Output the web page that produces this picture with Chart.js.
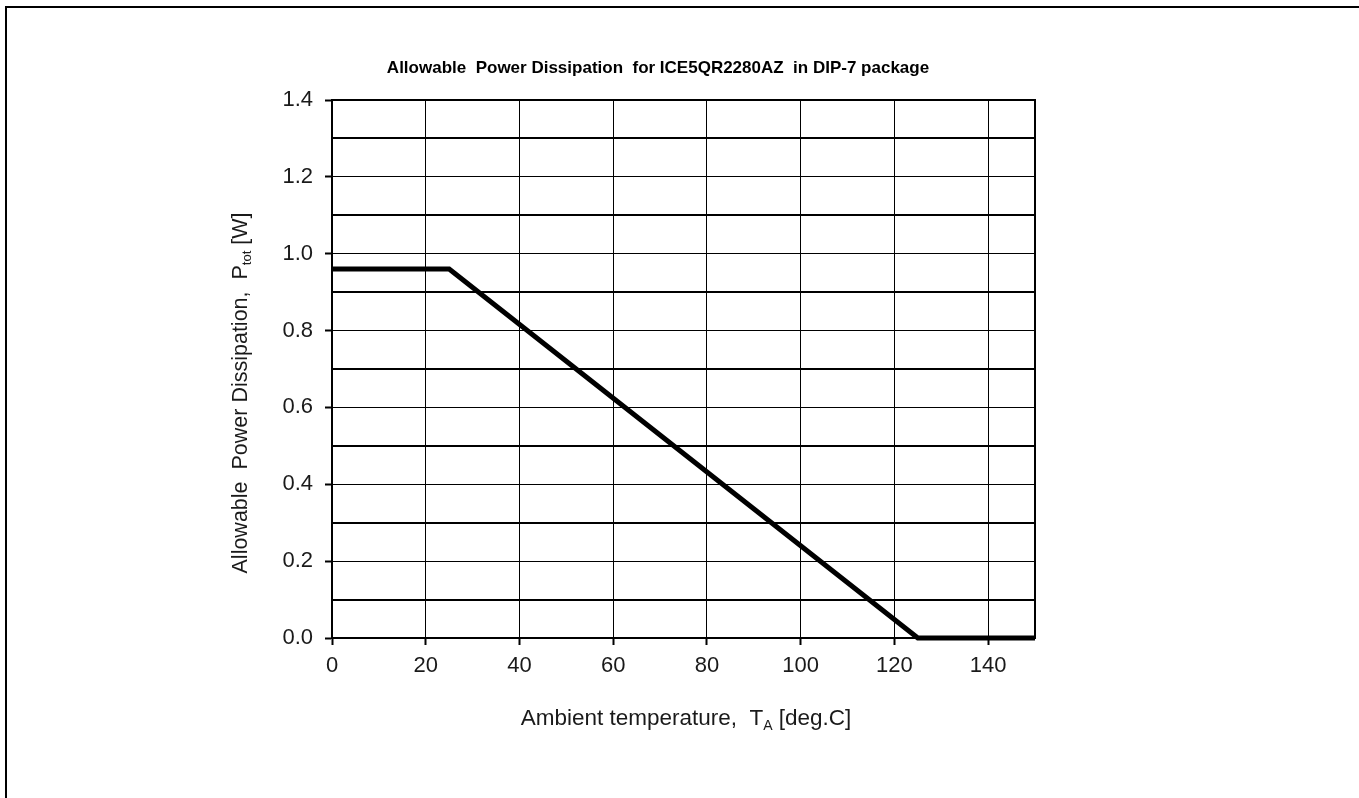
<!DOCTYPE html>
<html>
<head>
<meta charset="utf-8">
<title>Allowable Power Dissipation</title>
<script src="https://cdn.jsdelivr.net/npm/chart.js@4.4.1/dist/chart.umd.min.js"></script>
<style>
    html, body {
        margin: 0;
        padding: 0;
        background: #ffffff;
        overflow: hidden;
    }
    #wrap {
        position: absolute;
        left: 0;
        top: 0;
        width: 1359px;
        height: 798px;
    }
</style>
</head>
<body>
<div id="wrap"><canvas id="deratingChart"></canvas></div>
<script>
const temperature = [0, 25, 125, 150];
const powerW = [0.96, 0.96, 0, 0];

const xTickLabels = ["0", "20", "40", "60", "80", "100", "120", "140"];
const yTickLabels = ["0.0", "0.2", "0.4", "0.6", "0.8", "1.0", "1.2", "1.4"];

const chartTitle = "Allowable  Power Dissipation  for ICE5QR2280AZ  in DIP-7 package";
const yTitle = ["Allowable  Power Dissipation,  P", "tot", " [W]"];
const xTitle = ["Ambient temperature,  T", "A", " [deg.C]"];

const fontFamily = "'Liberation Sans', Arial, sans-serif";

function isMajorY(value) {
    return Math.abs(Math.round(value * 10) % 2) === 0;
}

// draws the text with a subscript part, centered on (0, 0)
function drawSubText(ctx, parts, size) {
    const mainFont = `${size}px ${fontFamily}`;
    const subFont = `${Math.round(size * 0.62)}px ${fontFamily}`;
    ctx.font = mainFont;
    const w0 = ctx.measureText(parts[0]).width;
    const w2 = ctx.measureText(parts[2]).width;
    ctx.font = subFont;
    const w1 = ctx.measureText(parts[1]).width;
    let x = -(w0 + w1 + w2) / 2;
    ctx.textAlign = "left";
    ctx.textBaseline = "alphabetic";
    const base = size * 0.36;
    ctx.font = mainFont;
    ctx.fillText(parts[0], x, base);
    x += w0;
    ctx.font = subFont;
    ctx.fillText(parts[1], x, base + size * 0.22);
    x += w1;
    ctx.font = mainFont;
    ctx.fillText(parts[2], x, base);
}

const textPlugin = {
    id: "textPlugin",
    beforeDraw(chart) {
        // page frame, only left and top edges are inside the picture
        const ctx = chart.ctx;
        ctx.save();
        ctx.strokeStyle = "#000";
        ctx.lineWidth = 2;
        ctx.beginPath();
        ctx.moveTo(6, 800);
        ctx.lineTo(6, 7);
        ctx.lineTo(1360, 7);
        ctx.stroke();
        ctx.restore();
    },
    afterDraw(chart) {
        const ctx = chart.ctx;
        const area = chart.chartArea;

        ctx.save();
        ctx.strokeStyle = "#000";
        ctx.lineWidth = 2;
        ctx.strokeRect(area.left, area.top, area.right - area.left, area.bottom - area.top);
        ctx.restore();

        ctx.save();
        ctx.fillStyle = "#000";
        ctx.font = `bold 17px ${fontFamily}`;
        ctx.textAlign = "center";
        ctx.textBaseline = "middle";
        ctx.fillText(chartTitle, 658, 68);
        ctx.restore();

        ctx.save();
        ctx.fillStyle = "#1a1a1a";
        ctx.translate(686, 717);
        drawSubText(ctx, xTitle, 22.5);
        ctx.restore();

        ctx.save();
        ctx.fillStyle = "#1a1a1a";
        ctx.translate(239, 393);
        ctx.rotate(-Math.PI / 2);
        drawSubText(ctx, yTitle, 21.5);
        ctx.restore();
    },
};

const deratingChart = new Chart(document.getElementById("deratingChart"), {
    type: "scatter",
    data: {
        datasets: [
            {
                label: "Ptot",
                data: temperature.map((t, i) => ({ x: t, y: powerW[i] })),
                showLine: true,
                borderColor: "#000",
                borderWidth: 5,
                pointRadius: 0,
                tension: 0,
                clip: false,
            },
        ],
    },
    options: {
        responsive: true,
        maintainAspectRatio: false,
        animation: false,
        devicePixelRatio: 1,
        layout: {
            padding: { left: 0, top: 100, right: 324, bottom: 119 },
        },
        plugins: {
            legend: { display: false },
            tooltip: { enabled: false },
            title: { display: false },
        },
        scales: {
            x: {
                type: "linear",
                min: 0,
                max: 150,
                afterFit: (scale) => {
                    scale.height = 41;
                },
                ticks: {
                    stepSize: 20,
                    includeBounds: false,
                    padding: 8,
                    color: "#1a1a1a",
                    font: { family: fontFamily, size: 22 },
                    maxRotation: 0,
                    callback: (value) => {
                        const i = xTickLabels.indexOf(String(value));
                        return i >= 0 ? xTickLabels[i] : "";
                    },
                },
                grid: {
                    color: "#000",
                    lineWidth: 1,
                    tickLength: 7,
                    tickColor: "#000",
                    tickWidth: 2,
                },
                border: { color: "#000", width: 2 },
            },
            y: {
                type: "linear",
                min: 0,
                max: 1.4,
                afterFit: (scale) => {
                    scale.width = 332;
                },
                ticks: {
                    stepSize: 0.1,
                    padding: 12,
                    color: "#1a1a1a",
                    font: { family: fontFamily, size: 22 },
                    callback: (value) => {
                        if (!isMajorY(value)) {
                            return "";
                        }
                        return yTickLabels[Math.round(value * 5)];
                    },
                },
                grid: {
                    color: "#000",
                    lineWidth: (ctx) => (ctx.tick && isMajorY(ctx.tick.value) ? 1 : 2),
                    tickLength: 7,
                    tickColor: (ctx) => (ctx.tick && isMajorY(ctx.tick.value) ? "#000" : "rgba(0,0,0,0)"),
                    tickWidth: 2,
                },
                border: { color: "#000", width: 2 },
            },
        },
    },
    plugins: [textPlugin],
});
</script>
</body>
</html>
